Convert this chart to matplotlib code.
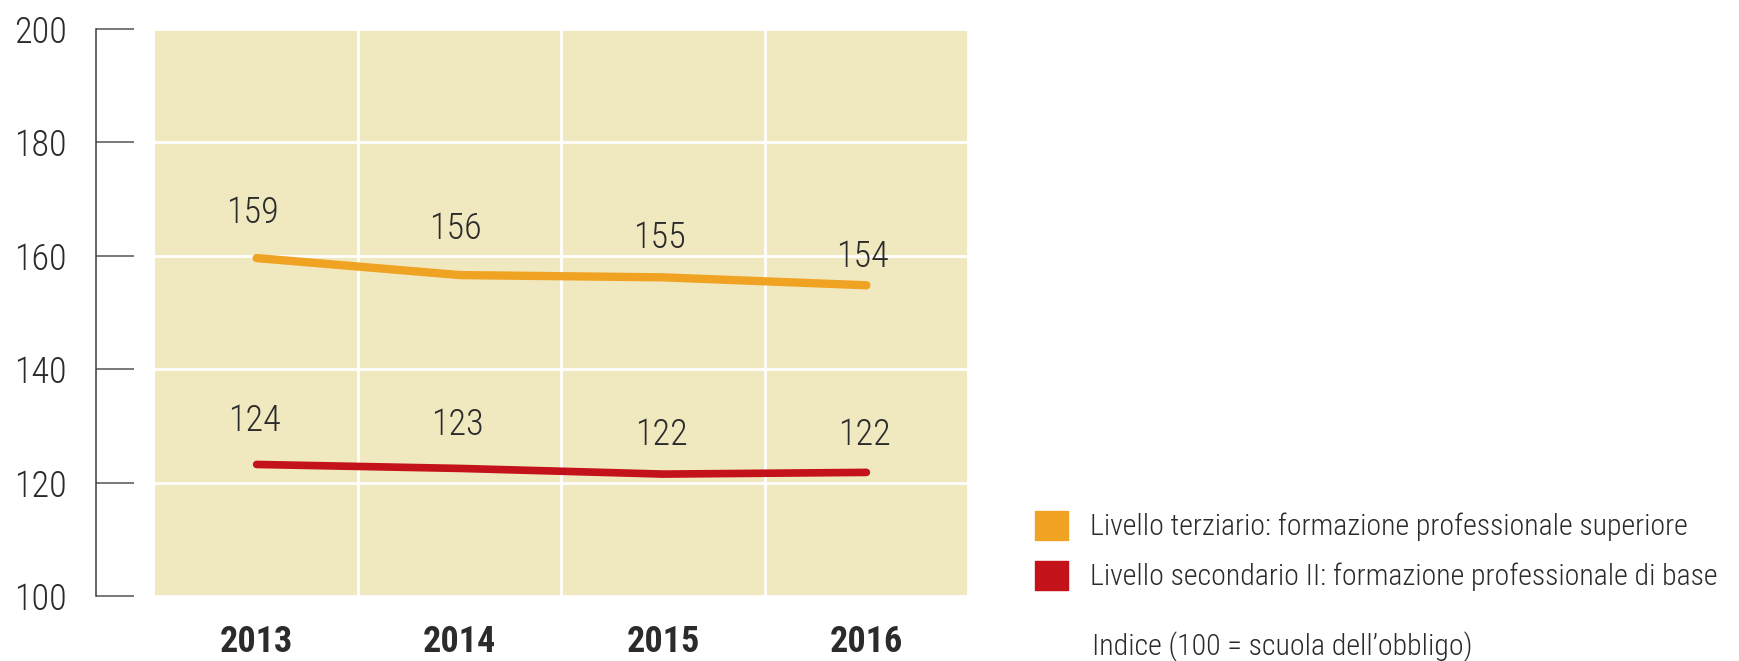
import matplotlib.pyplot as plt
from matplotlib.patches import Patch

plt.rcParams['font.family'] = ['Roboto Condensed', 'DejaVu Sans']

# data
years = ['2013', '2014', '2015', '2016']
terziario = [159.6, 156.6, 156.2, 154.8]
secondario = [123.2, 122.5, 121.5, 121.8]
terziario_labels = ['159', '156', '155', '154']
secondario_labels = ['124', '123', '122', '122']
# how far above the line each value label sits (in index points)
terziario_lift = [7.9, 8.1, 7.0, 5.0]
secondario_lift = [7.7, 7.7, 6.9, 6.6]

legend_names = ['Livello terziario: formazione professionale superiore',
                'Livello secondario II: formazione professionale di base']
note = 'Indice (100 = scuola dell\u2019obbligo)'

orange = '#F0A323'
red = '#C4121A'
bg = '#F0E8BE'
txt = '#2b2b2b'

fig = plt.figure(figsize=(17.4, 6.61), dpi=100)
ax = fig.add_axes([155/1740, 1-596/661, (968-155)/1740, (596-29)/661])
ax.set_facecolor(bg)

x = list(range(len(years)))
ax.plot(x, terziario, color=orange, lw=6, solid_capstyle='round', zorder=3)
ax.plot(x, secondario, color=red, lw=5.5, solid_capstyle='round', zorder=3)

for i in x:
    ax.text(i - 0.02, terziario[i] + terziario_lift[i], terziario_labels[i],
            ha='center', va='center', fontsize=26, fontweight='light', color=txt)
    ax.text(i - 0.01, secondario[i] + secondario_lift[i], secondario_labels[i],
            ha='center', va='center', fontsize=26, fontweight='light', color=txt)

ax.set_xlim(-0.5, 3.5)
ax.set_ylim(100, 200)
ax.set_yticks(range(100, 201, 20))
ax.set_xticks(x)
ax.set_xticklabels(years, fontsize=26, fontweight='bold', color=txt)
ax.set_xticks([0.5, 1.5, 2.5, 3.5], minor=True)

ax.grid(axis='y', which='major', color='white', lw=2)
ax.grid(axis='x', which='minor', color='white', lw=2)
ax.set_axisbelow(True)

for s in ['top', 'right', 'bottom']:
    ax.spines[s].set_visible(False)
ax.spines['left'].set_position(('outward', 42.5))
ax.spines['left'].set_color('#3a3a3a')
ax.spines['left'].set_linewidth(1.1)

ax.tick_params(axis='y', direction='in', length=27.4, width=1.1, color='#555555',
               pad=21, labelsize=26, labelcolor=txt)
for lab in ax.get_yticklabels():
    lab.set_fontweight('light')
ax.tick_params(axis='x', which='both', length=0, pad=20)

handles = [Patch(color=orange), Patch(color=red)]
fig.legend(handles, legend_names, loc='upper left',
           bbox_to_anchor=(1035/1740, 1-511/661), frameon=False,
           handlelength=1.1, handleheight=1.1,
           handletextpad=0.75, labelspacing=0.65, borderpad=0, borderaxespad=0,
           prop={'weight': 'light', 'size': 21.5}, labelcolor=txt)

fig.text(1092/1740, 1-647/661, note, ha='left', va='center', fontsize=21.5,
         fontweight='light', color=txt)

fig.savefig('out.png', dpi=100)
